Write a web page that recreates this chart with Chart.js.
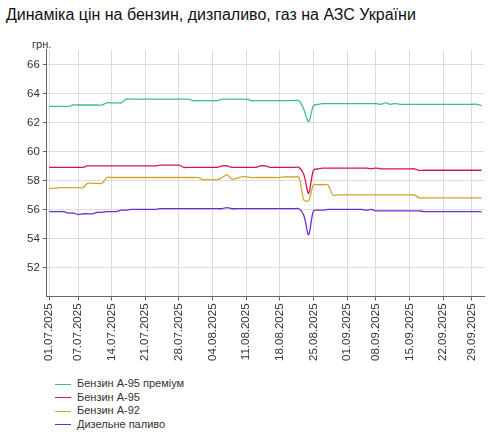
<!DOCTYPE html>
<html>
<head>
<meta charset="utf-8">
<script src="https://cdn.jsdelivr.net/npm/chart.js@4"></script>
<style>
  body { margin: 0; background: #fff; font-family: "Liberation Sans", Arial, sans-serif; }
  #wrap { position: relative; width: 490px; height: 434px; }
  #title { position: absolute; left: 6px; top: 6px; font-size: 16px; color: #111; }
  #unit { position: absolute; left: 32px; top: 38px; font-size: 11px; color: #333; }
  #box { position: absolute; left: 0; top: 40px; width: 490px; height: 324px; }
  #legend { position: absolute; left: 55px; top: 377px; font-size: 11px; color: #333; }
  #legend div { height: 13.5px; line-height: 13.5px; }
  #legend span { display: inline-block; width: 16px; height: 0; border-top: 1.5px solid; vertical-align: middle; margin-right: 6px; }
</style>
</head>
<body>
<div id="wrap">
  <div id="title">Динаміка цін на бензин, дизпаливо, газ на АЗС України</div>
  <div id="unit">грн.</div>
  <div id="box"><canvas id="chart"></canvas></div>
  <div id="legend"></div>
</div>
<script>
// tick labels shown on the x axis
const tickLabels = ['01.07.2025', '07.07.2025', '14.07.2025', '21.07.2025', '28.07.2025', '04.08.2025',
    '11.08.2025', '18.08.2025', '25.08.2025', '01.09.2025', '08.09.2025', '15.09.2025', '22.09.2025', '29.09.2025'];

// days with data: 01.07 - 01.10, two days missing
const missingDays = ['03.09.2025', '25.09.2025'];
const dates = [];
for (let d = new Date(2025, 6, 1); d <= new Date(2025, 9, 1); d.setDate(d.getDate() + 1)) {
    const s = String(d.getDate()).padStart(2, '0') + '.' + String(d.getMonth() + 1).padStart(2, '0') + '.' + d.getFullYear();
    if (!missingDays.includes(s)) dates.push(s);
}

const seriesNames = ['Бензин А-95 преміум', 'Бензин А-95', 'Бензин А-92', 'Дизельне паливо'];
const seriesColors = ['#3dbb9b', '#d1145c', '#d4a62a', '#6a2fd0'];

const a95premium = [
    63.1, 63.1, 63.1, 63.1, 63.1,
    63.2, 63.2, 63.2, 63.2, 63.2, 63.2, 63.2,
    63.35, 63.35, 63.35, 63.35,
    63.6, 63.6, 63.6, 63.6, 63.6, 63.6, 63.6, 63.6, 63.6, 63.6, 63.6, 63.6, 63.6, 63.6,
    63.5, 63.5, 63.5, 63.5, 63.5, 63.5,
    63.6, 63.6, 63.6, 63.6, 63.6, 63.6,
    63.5, 63.5, 63.5, 63.5, 63.5, 63.5, 63.5, 63.5, 63.5, 63.5, 63.5,
    62.9, 62.05, 63.15, 63.25,
    63.3, 63.3, 63.3, 63.3, 63.3, 63.3, 63.3, 63.3, 63.3, 63.3, 63.3, 63.3,
    63.25, 63.35, 63.25, 63.3, 63.25,
    63.25, 63.25, 63.25, 63.25, 63.25, 63.25, 63.25, 63.25, 63.25, 63.25, 63.25, 63.25, 63.25, 63.25, 63.25, 63.25,
    63.15
];
const a95 = [
    58.9, 58.9, 58.9, 58.9, 58.9, 58.9, 58.9, 58.9,
    59.0, 59.0, 59.0, 59.0, 59.0, 59.0, 59.0, 59.0, 59.0, 59.0, 59.0, 59.0, 59.0, 59.0, 59.0,
    59.05, 59.05, 59.05, 59.05, 59.05,
    58.9, 58.9, 58.9, 58.9, 58.9, 58.9, 58.9, 58.9,
    59.0, 59.0,
    58.9, 58.9, 58.9, 58.9, 58.9, 58.9,
    59.0, 59.0,
    58.9, 58.9, 58.9, 58.9, 58.9, 58.9, 58.9,
    58.4, 57.1, 58.7, 58.8,
    58.85, 58.85, 58.85, 58.85, 58.85, 58.85, 58.85, 58.85, 58.85, 58.85,
    58.8, 58.85,
    58.8, 58.8, 58.8, 58.8, 58.8, 58.8, 58.8, 58.8,
    58.7, 58.7, 58.7, 58.7, 58.7, 58.7, 58.7, 58.7, 58.7, 58.7, 58.7, 58.7, 58.7, 58.7
];
const a92 = [
    57.45, 57.45,
    57.5, 57.5, 57.5, 57.5, 57.5, 57.5,
    57.8, 57.8, 57.8, 57.8,
    58.2, 58.2, 58.2, 58.2, 58.2, 58.2, 58.2, 58.2, 58.2, 58.2, 58.2, 58.2, 58.2, 58.2, 58.2, 58.2, 58.2, 58.2, 58.2, 58.2,
    58.05, 58.05, 58.05, 58.05,
    58.2, 58.4, 58.1, 58.15, 58.25, 58.25,
    58.2, 58.2, 58.2, 58.2, 58.2, 58.2, 58.2,
    58.25, 58.25, 58.25,
    58.2, 56.65, 56.6, 57.7, 57.7, 57.7, 57.7, 57.0,
    57.0, 57.0, 57.0, 57.0, 57.0, 57.0, 57.0, 57.0, 57.0, 57.0, 57.0, 57.0, 57.0, 57.0, 57.0, 57.0, 57.0,
    56.8, 56.8, 56.8, 56.8, 56.8, 56.8, 56.8, 56.8, 56.8, 56.8, 56.8, 56.8, 56.8, 56.8
];
const diesel = [
    55.85, 55.85, 55.85, 55.85,
    55.75, 55.75,
    55.65,
    55.7, 55.7, 55.7,
    55.8, 55.8,
    55.85, 55.85, 55.85,
    55.95, 55.95,
    56.0, 56.0, 56.0, 56.0, 56.0, 56.0,
    56.05, 56.05, 56.05, 56.05, 56.05, 56.05, 56.05, 56.05, 56.05, 56.05, 56.05, 56.05, 56.05, 56.05,
    56.12,
    56.05, 56.05, 56.05, 56.05, 56.05, 56.05, 56.05, 56.05, 56.05, 56.05, 56.05, 56.05, 56.05, 56.05, 56.05,
    55.6, 54.25, 55.9, 55.95, 55.95,
    56.0, 56.0, 56.0, 56.0, 56.0, 56.0, 56.0, 56.0,
    55.95, 56.0,
    55.9, 55.9, 55.9, 55.9, 55.9, 55.9, 55.9, 55.9, 55.9, 55.9,
    55.85, 55.85, 55.85, 55.85, 55.85, 55.85, 55.85, 55.85, 55.85, 55.85, 55.85, 55.85, 55.85
];
const seriesValues = [a95premium, a95, a92, diesel];

const legend = document.getElementById('legend');
seriesNames.forEach((name, i) => {
    const row = document.createElement('div');
    row.innerHTML = '<span style="border-color:' + seriesColors[i] + '"></span>' + name;
    legend.appendChild(row);
});

new Chart(document.getElementById('chart'), {
    type: 'line',
    data: {
        labels: dates,
        datasets: seriesNames.map((name, i) => ({
            label: name,
            data: seriesValues[i],
            borderColor: seriesColors[i],
            borderWidth: 1.3,
            pointRadius: 0,
            tension: 0.3,
            fill: false
        }))
    },
    options: {
        responsive: true,
        maintainAspectRatio: false,
        animation: false,
        layout: { padding: { left: 24, right: 6, top: 8, bottom: 0 } },
        plugins: { legend: { display: false }, tooltip: { enabled: false } },
        scales: {
            x: {
                offset: true,
                grid: { color: '#dcdcdc', drawTicks: true, tickLength: 4, tickColor: '#666' },
                border: { color: '#666' },
                ticks: {
                    autoSkip: false,
                    maxRotation: 90,
                    minRotation: 90,
                    color: '#333',
                    font: { size: 11.5, family: 'Liberation Sans' },
                    callback: function (value) {
                        const lbl = this.getLabelForValue(value);
                        return tickLabels.includes(lbl) ? lbl : null;
                    }
                }
            },
            y: {
                min: 50,
                max: 67,
                grid: { color: '#dcdcdc', tickLength: 4, tickColor: '#666' },
                border: { color: '#666' },
                ticks: {
                    stepSize: 2,
                    color: '#333',
                    font: { size: 11.5, family: 'Liberation Sans' },
                    callback: v => (v === 50 || v === 67) ? null : v
                }
            }
        }
    }
});
</script>
</body>
</html>
